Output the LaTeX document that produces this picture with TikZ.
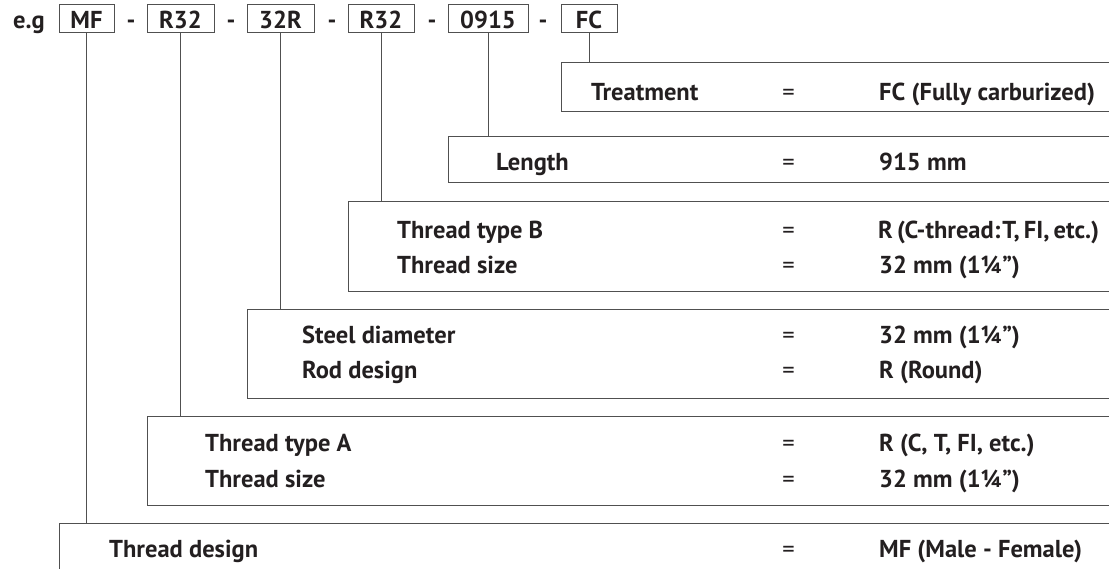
\documentclass[tikz,border=0pt]{standalone}
\usepackage{fontspec}
\setmainfont{PT Sans}
\definecolor{ink}{RGB}{35,31,32}
\definecolor{rulec}{RGB}{80,80,80}
\begin{document}
\begin{tikzpicture}[x=1pt,y=-1pt,
  codebox/.style={draw=rulec, line width=0.9pt, inner sep=0pt, minimum height=27.6pt,
    text height=21pt, text depth=0pt, text=ink, font=\bfseries\fontsize{24.5}{24.5}\selectfont},
  codetext/.style={anchor=base, inner sep=0pt, text=ink, font=\bfseries\fontsize{24.5}{24.5}\selectfont},
  panel/.style={inner sep=0pt, anchor=north west, draw=none},
  lbl/.style={anchor=base west, inner sep=0pt, text=ink, font=\bfseries\fontsize{24.5}{24.5}\selectfont},
  eqs/.style={anchor=base, inner sep=0pt, text=ink, font=\fontsize{24.5}{24.5}\selectfont},
  wire/.style={draw=rulec, line width=0.9pt},
  frame/.style={draw=rulec, line width=0.9pt}]
\useasboundingbox (0,0) rectangle (1109,569);

% code row
\node[codetext, anchor=base west] (eg) at (13,29) {e.g};
\node[codebox, minimum width=55pt] (mf) at (86.5,18.5) {MF};
\node[codetext] (d1) at (131,29) {-};
\node[codebox, minimum width=67pt] (ra) at (180.5,18.5) {R32};
\node[codetext] (d2) at (231,29) {-};
\node[codebox, minimum width=67pt] (sr) at (280.5,18.5) {32R};
\node[codetext] (d3) at (332,29) {-};
\node[codebox, minimum width=66pt] (rb) at (381,18.5) {R32};
\node[codetext] (d4) at (432,29) {-};
\node[codebox, minimum width=80pt] (ln) at (488,18.5) {0915};
\node[codetext] (d5) at (543,29) {-};
\node[codebox, minimum width=56pt] (fc) at (589,18.5) {FC};

% panels
\node[panel, minimum width=548pt, minimum height=48.3pt] (pT) at (561,62.7) {};
\node[panel, minimum width=661pt, minimum height=46pt] (pL) at (448,136) {};
\node[panel, minimum width=761pt, minimum height=90pt] (pB) at (348,201) {};
\node[panel, minimum width=862pt, minimum height=89.3pt] (pS) at (247,309) {};
\node[panel, minimum width=962pt, minimum height=89.5pt] (pA) at (147,416) {};
\node[panel, minimum width=1050pt, minimum height=60pt] (pD) at (59,523.3) {};

\foreach \p in {pT,pL,pB,pS,pA}
  \draw[frame] (\p.north east) -- (\p.north west) -- (\p.south west) -- (\p.south east);
\draw[frame] (pD.north east) -- (pD.north west) -- (pD.south west);

% connectors
\draw[wire] (mf.south) -- (mf.south |- pD.north);
\draw[wire] (ra.south) -- (ra.south |- pA.north);
\draw[wire] (sr.south) -- (sr.south |- pS.north);
\draw[wire] (rb.south) -- (rb.south |- pB.north);
\draw[wire] (ln.south) -- (ln.south |- pL.north);
\draw[wire] (fc.south) -- (fc.south |- pT.north);

% rows
\node[lbl] (tT) at (591,100.5) {Treatment};
\node[eqs] (eT) at (788.5,100.5) {=};
\node[lbl] (vT) at (879,100.5) {FC (Fully carburized)};

\node[lbl] (tL) at (496,170.5) {Length};
\node[eqs] (eL) at (788.5,170.5) {=};
\node[lbl] (vL) at (879,170.5) {915 mm};

\node[lbl] (tB1) at (397,238.5) {Thread type B};
\node[eqs] (eB1) at (788.5,238.5) {=};
\node[lbl] (vB1) at (878,238.5) {\spaceskip=0.17em R (C-thread:\kern0.08em T, FI, etc.)};
\node[lbl] (tB2) at (397,274) {Thread size};
\node[eqs] (eB2) at (788.5,274) {=};
\node[lbl] (vB2) at (879,274) {32 mm (1¼”)};

\node[lbl] (tS1) at (302,344) {Steel diameter};
\node[eqs] (eS1) at (788.5,344) {=};
\node[lbl] (vS1) at (879,344) {32 mm (1¼”)};
\node[lbl] (tS2) at (302,378.5) {Rod design};
\node[eqs] (eS2) at (788.5,378.5) {=};
\node[lbl] (vS2) at (879,378.5) {R (Round)};

\node[lbl] (tA1) at (205,451.3) {Thread type A};
\node[eqs] (eA1) at (788.5,451.3) {=};
\node[lbl] (vA1) at (879,451.3) {R (C, T, FI, etc.)};
\node[lbl] (tA2) at (205,487.3) {Thread size};
\node[eqs] (eA2) at (788.5,487.3) {=};
\node[lbl] (vA2) at (879,487.3) {32 mm (1¼”)};

\node[lbl] (tD) at (109,557.3) {Thread design};
\node[eqs] (eD) at (788.5,557.3) {=};
\node[lbl] (vD) at (879,557.3) {MF (Male - Female)};
\end{tikzpicture}
\end{document}
